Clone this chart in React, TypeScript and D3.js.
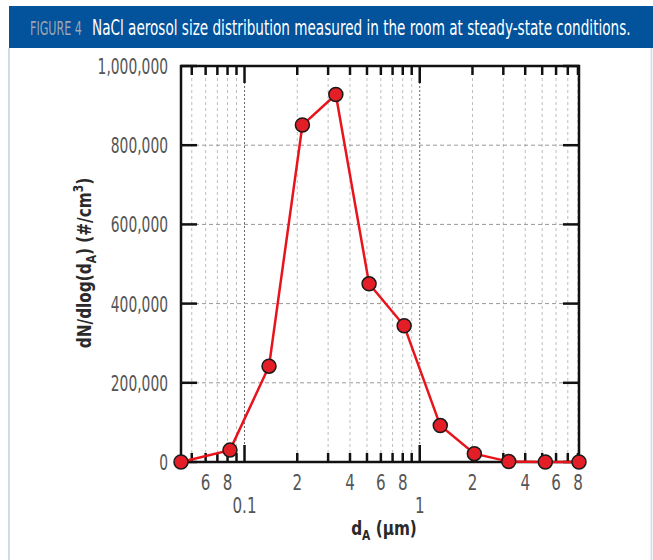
import React from 'react';
import * as d3 from 'd3';

// particle diameter (um) and number concentration dN/dlog(dA) (#/cm3)
const diameters = [0.0434, 0.0826, 0.138, 0.214, 0.332, 0.514, 0.815, 1.31, 2.05, 3.22, 5.21, 8.11];
const counts = [0, 30000, 242000, 851000, 928000, 450000, 344000, 92000, 21000, 1000, 0, 0];

const yTicks = [0, 200000, 400000, 600000, 800000, 1000000];
const xMinor = [0.05, 0.06, 0.07, 0.08, 0.09, 0.2, 0.3, 0.4, 0.5, 0.6, 0.7, 0.8, 0.9, 2, 3, 4, 5, 6, 7, 8];
const xMajor = [0.1, 1];
const xLabelValues = [0.06, 0.08, 0.2, 0.4, 0.6, 0.8, 2, 4, 6, 8];
const xLabelTexts = ['6', '8', '2', '4', '6', '8', '2', '4', '6', '8'];
const xDecadeTexts = ['0.1', '1'];

const W = 653;
const H = 560;
const plot = { left: 181, right: 579, top: 66, bottom: 462 };
const FONT = "'Liberation Sans Narrow', 'DejaVu Sans Condensed', Roboto, sans-serif";

const fmt = d3.format(',');

function SText({ x, y, sx = 0.8, anchor = 'middle', size = 21, fill = '#555', weight = 'normal', rotate = 0, children }: any) {
  return (
    <text
      transform={`translate(${x},${y}) rotate(${rotate}) scale(${sx},1)`}
      textAnchor={anchor}
      fontSize={size}
      fill={fill}
      fontWeight={weight}
      fontFamily={FONT}
    >
      {children}
    </text>
  );
}

export default function App() {
  const x = d3.scaleLog().domain([diameters[0], diameters[diameters.length - 1]]).range([plot.left, plot.right]);
  const y = d3.scaleLinear().domain([0, 1000000]).range([plot.bottom, plot.top]);

  const line = d3.line<number>()
    .x((d, i) => x(diameters[i]))
    .y(d => y(d));

  return (
    <svg width={W} height={H} style={{ position: 'fixed', left: 0, top: 0, background: '#fff' }}>
      {/* header */}
      <rect x={9} y={6} width={W - 9} height={42} fill="#02529c" />
      <SText x={30} y={35} size={20} sx={0.62} anchor="start" fill="#9ea6b1">FIGURE 4</SText>
      <SText x={92} y={35} size={21} sx={0.72} anchor="start" fill="#fff">
        NaCl aerosol size distribution measured in the room at steady-state conditions.
      </SText>
      {/* panel borders */}
      <line x1={9} x2={9} y1={48} y2={H} stroke="#d4d8ec" strokeWidth={2} />
      <line x1={651.5} x2={651.5} y1={48} y2={H} stroke="#d4d8ec" strokeWidth={1.5} />

      {/* grid */}
      {xMinor.map(v => (
        <line key={'gm' + v} x1={x(v)} x2={x(v)} y1={plot.top} y2={plot.bottom} stroke="#bdbdbd" strokeWidth={1} strokeDasharray="3,3" />
      ))}
      {xMajor.map(v => (
        <line key={'gM' + v} x1={x(v)} x2={x(v)} y1={plot.top} y2={plot.bottom} stroke="#666" strokeWidth={1} strokeDasharray="2,2" />
      ))}
      {yTicks.slice(1, -1).map(v => (
        <line key={'gy' + v} x1={plot.left} x2={plot.right} y1={y(v)} y2={y(v)} stroke="#999" strokeWidth={1} strokeDasharray="4,3" />
      ))}

      {/* ticks */}
      {xMinor.map(v => (
        <g key={'tm' + v} stroke="#111" strokeWidth={2.5}>
          <line x1={x(v)} x2={x(v)} y1={plot.top} y2={plot.top + 9} />
          <line x1={x(v)} x2={x(v)} y1={plot.bottom} y2={plot.bottom - 9} />
        </g>
      ))}
      {xMajor.map(v => (
        <g key={'tM' + v} stroke="#111" strokeWidth={2.5}>
          <line x1={x(v)} x2={x(v)} y1={plot.top} y2={plot.top + 17} />
          <line x1={x(v)} x2={x(v)} y1={plot.bottom} y2={plot.bottom - 17} />
        </g>
      ))}
      {yTicks.map(v => (
        <g key={'ty' + v} stroke="#111" strokeWidth={2.5}>
          <line x1={plot.left} x2={plot.left + 16} y1={y(v)} y2={y(v)} />
          <line x1={plot.right} x2={plot.right - 16} y1={y(v)} y2={y(v)} />
        </g>
      ))}
      <rect x={plot.left} y={plot.top} width={plot.right - plot.left} height={plot.bottom - plot.top} fill="none" stroke="#111" strokeWidth={2.5} />

      {/* tick labels */}
      {yTicks.map(v => (
        <SText key={'ly' + v} x={168} y={y(v) + 8} anchor="end" size={22} sx={0.7}>{fmt(v)}</SText>
      ))}
      {xLabelValues.map((v, i) => (
        <SText key={'lx' + i} x={x(v)} y={490} size={21} sx={0.8}>{xLabelTexts[i]}</SText>
      ))}
      {xMajor.map((v, i) => (
        <SText key={'ld' + v} x={x(v)} y={513} size={21} sx={0.8}>{xDecadeTexts[i]}</SText>
      ))}

      {/* axis titles */}
      <SText x={384} y={535} size={20} sx={0.85} fill="#2a2a2a" weight="bold">
        d<tspan fontSize={14} dy={5}>A</tspan><tspan dy={-5}> (µm)</tspan>
      </SText>
      <SText x={91} y={263} size={20} sx={0.85} fill="#2a2a2a" weight="bold" rotate={-90}>
        dN/dlog(d<tspan fontSize={14} dy={5}>A</tspan><tspan dy={-5}>)  (#/cm</tspan><tspan fontSize={14} dy={-8}>3</tspan><tspan dy={8}>)</tspan>
      </SText>

      {/* data */}
      <path d={line(counts) || ''} fill="none" stroke="#e8141c" strokeWidth={2.5} />
      {counts.map((c, i) => (
        <circle key={'p' + i} cx={x(diameters[i])} cy={y(c)} r={7} fill="#e41e26" stroke="#1a1a1a" strokeWidth={1.5} />
      ))}
    </svg>
  );
}
